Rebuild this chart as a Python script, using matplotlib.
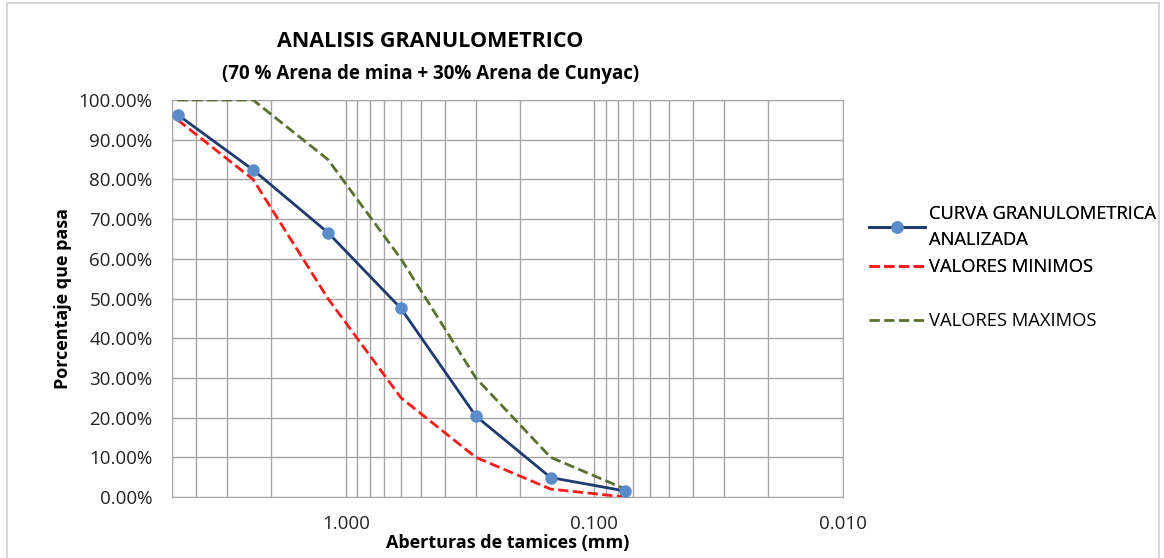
import matplotlib.pyplot as plt
from matplotlib.ticker import FixedLocator, LogLocator, NullFormatter, PercentFormatter
from matplotlib.patches import Rectangle

# sieve openings (mm) and percent passing
aberturas = [4.75, 2.36, 1.18, 0.60, 0.30, 0.15, 0.075]
curva = [96.3, 82.4, 66.6, 47.5, 20.4, 4.9, 1.5]
minimos = [95, 80, 50, 25, 10, 2, 0]
maximos = [100, 100, 85, 60, 30, 10, 2]
xticks = [1.0, 0.1, 0.01]
xtick_labels = ['1.000', '0.100', '0.010']

plt.rcParams['font.family'] = ['Open Sans', 'DejaVu Sans']

fig = plt.figure(figsize=(11.64, 5.58), dpi=100)
ax = fig.add_axes([0.1478, 0.1093, 0.5764, 0.7115])

l1, = ax.plot(aberturas, curva, '-o', color='#1F3A70', lw=2, markersize=8,
              markerfacecolor='#5B8BC9', markeredgecolor='#5B8BC9',
              label='CURVA GRANULOMETRICA\nANALIZADA', zorder=4)
l2, = ax.plot(aberturas, minimos, '--', color='#FF1A1A', lw=2, label='VALORES MINIMOS', zorder=3)
l3, = ax.plot(aberturas, maximos, '--', color='#5A7030', lw=2, label='VALORES MAXIMOS', zorder=3)

ax.set_xscale('log')
ax.set_xlim(5, 0.01)
ax.set_ylim(0, 100)
ax.xaxis.set_major_locator(FixedLocator(xticks))
ax.set_xticklabels(xtick_labels)
ax.xaxis.set_minor_locator(LogLocator(base=10, subs=range(2, 10), numticks=20))
ax.xaxis.set_minor_formatter(NullFormatter())
ax.set_yticks(range(0, 101, 10))
ax.yaxis.set_major_formatter(PercentFormatter(decimals=2))

ax.grid(True, which='both', color='#A6A6A6', lw=1)
ax.set_axisbelow(True)
ax.tick_params(which='both', length=0, labelsize=13.5, colors='#222222')
ax.tick_params(axis='x', pad=13)
ax.tick_params(axis='y', pad=14)
for s in ax.spines.values():
    s.set_color('#A6A6A6')

ax.set_xlabel('Aberturas de tamices (mm)', fontsize=13, fontweight='bold', labelpad=1)
ax.set_ylabel('Porcentaje que pasa', fontsize=13, fontweight='bold', labelpad=5)

fig.text(0.370, 0.925, 'ANALISIS GRANULOMETRICO', ha='center', va='center',
         fontsize=15.5, fontweight='bold')
fig.text(0.370, 0.868, '(70 % Arena de mina + 30% Arena de Cunyac)', ha='center', va='center',
         fontsize=13.5, fontweight='bold')

leg1 = fig.legend(handles=[l1, l2], loc='upper left', bbox_to_anchor=(0.732, 0.663),
                  frameon=False, fontsize=13.2, handlelength=3.1, labelspacing=0.5,
                  handletextpad=0.2)
for t in leg1.get_texts():
    t.set_linespacing(1.6)
fig.add_artist(leg1)
fig.legend(handles=[l3], loc='upper left', bbox_to_anchor=(0.732, 0.47),
           frameon=False, fontsize=13.2, handlelength=3.1, handletextpad=0.2)

fig.patches.append(Rectangle((0.006, -0.01), 0.99, 1.004, transform=fig.transFigure,
                             fill=False, edgecolor='#D0D0D0', lw=1.2))

fig.savefig('out.png', dpi=100)
